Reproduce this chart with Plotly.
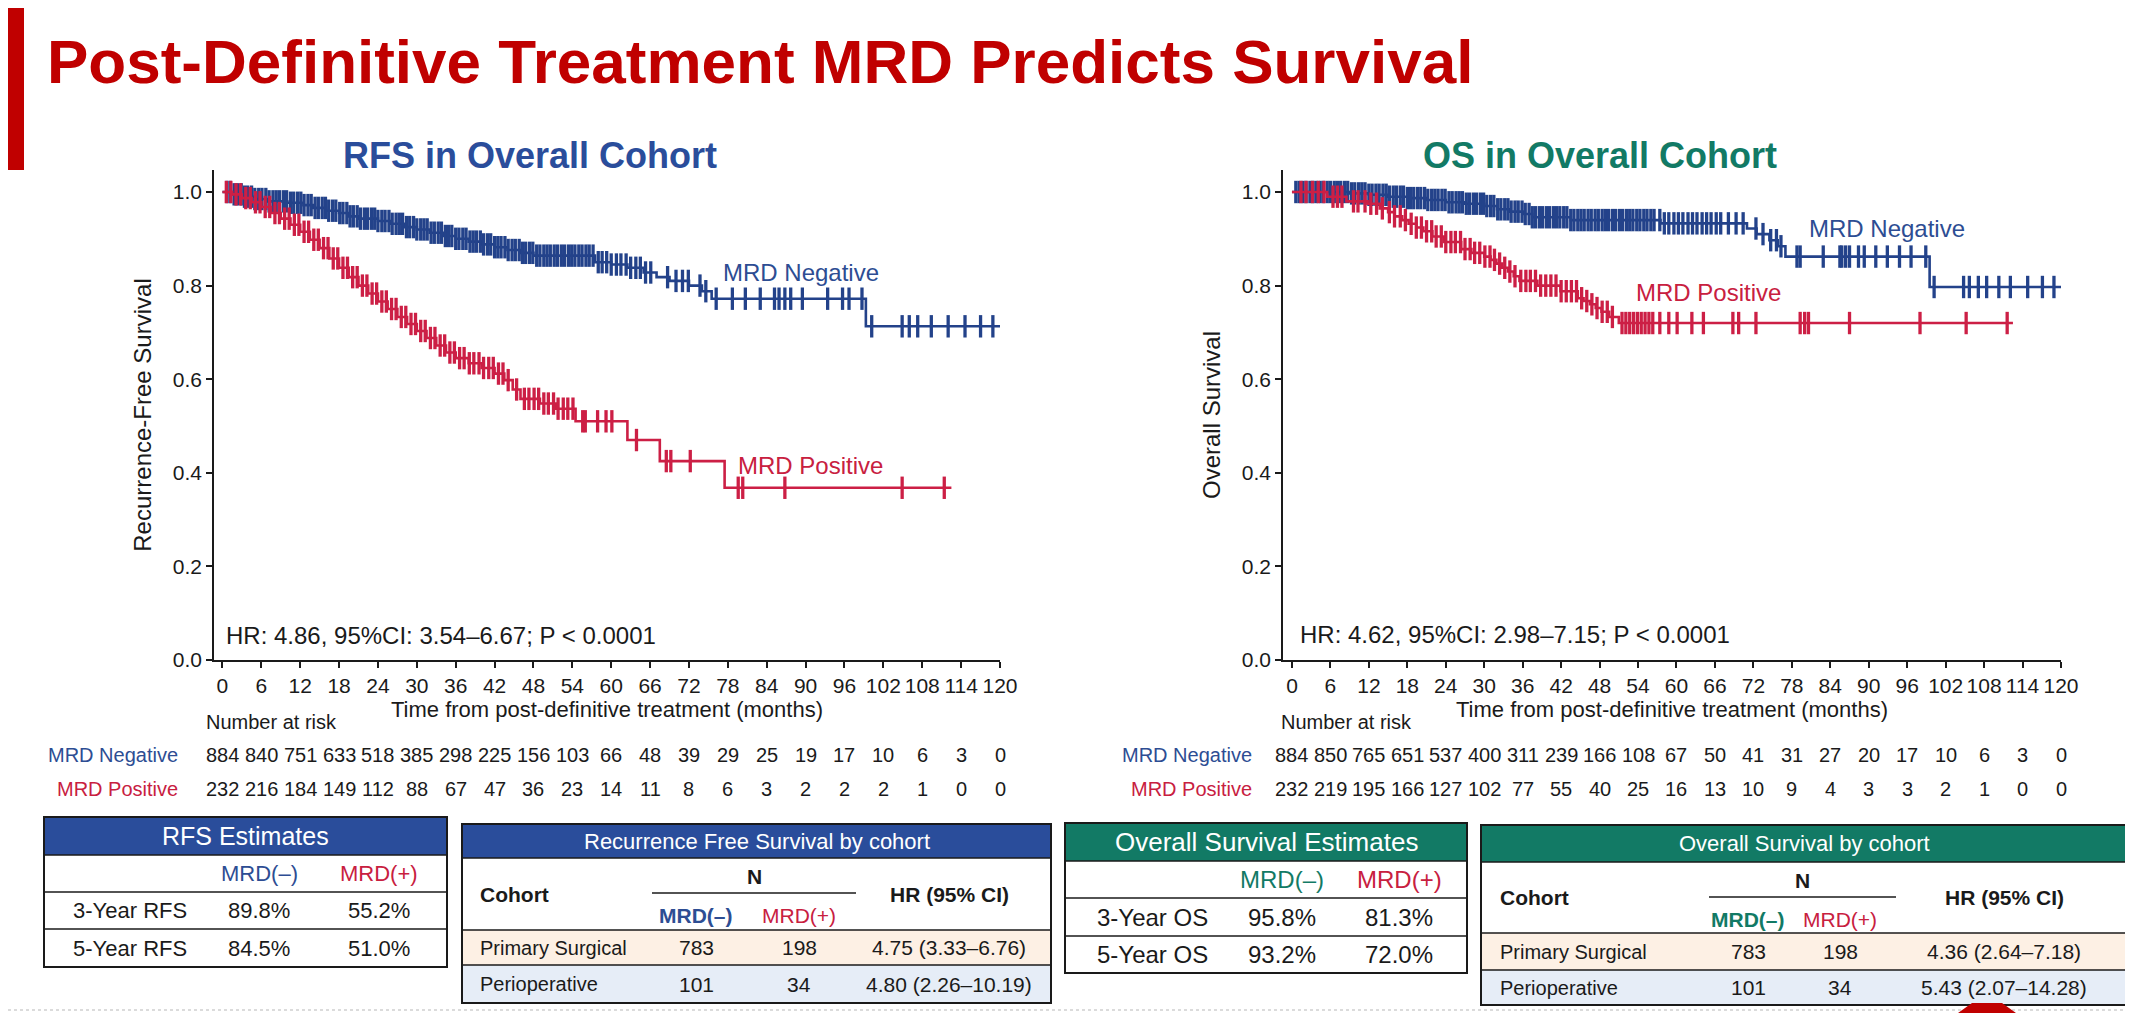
import bisect

import plotly.graph_objects as go

W, H = 2133, 1013
OFF = 8  # margen por defecto del <body> en el html
FONT = "Liberation Sans, Arial, Helvetica, sans-serif"

# Paleta
SLIDE_RED = "#c00000"
HEAD_BLUE = "#2a4d9b"
HEAD_GREEN = "#127a65"
NAVY = "#23428a"
CRIMSON = "#cc1f45"
LABEL_BLUE = "#2d4d93"
LABEL_RED = "#c8203f"
PEACH = "#fdf0e4"
ICE = "#e6edf7"
INK = "#1a1a1a"

MONTHS = list(range(0, 121, 6))

# ── RFS: curvas Kaplan-Meier (tiempos de escalon y supervivencia) ──
RFS_NEG_T = [0, 1.5, 3, 5, 7, 10, 12.5, 14, 16, 18, 19.5, 21, 24, 26, 28, 30, 32, 34, 36,
             38, 40, 42, 44, 46, 48, 57.5, 60, 62.5, 65, 67, 69, 72, 74, 75.5, 99.3]
RFS_NEG_S = [1.0, 0.995, 0.99, 0.985, 0.98, 0.977, 0.972, 0.966, 0.96, 0.955, 0.948, 0.943,
             0.938, 0.932, 0.925, 0.92, 0.913, 0.906, 0.9, 0.894, 0.888, 0.882, 0.876, 0.87,
             0.864, 0.85, 0.845, 0.838, 0.828, 0.818, 0.81, 0.8, 0.788, 0.772, 0.713]
RFS_NEG_END = 120
RFS_NEG_CENS = [float(v) for v in """
0.7 1.2 1.8 2.3 2.9 3.4 3.9 4.5 5.0 5.6 6.1 6.7 7.2 7.8 8.3 8.8 9.4 9.9 10.5 11.0 11.6
12.1 12.6 13.2 13.7 14.3 14.8 15.4 15.9 16.4 17.0 17.5 18.1 18.6 19.2 19.7 20.2 20.8 21.3
21.9 22.4 23.0 23.5 24.0 24.6 25.1 25.7 26.2 26.8 27.3 27.8 28.4 28.9 29.5 30.0 30.6 31.1
31.6 32.2 32.7 33.3 33.8 34.4 34.9 35.4 36.0 36.5 37.1 37.6 38.2 38.7 39.2 39.8 40.3 40.9
41.4 42.0 42.5 43.0 43.6 44.1 44.7 45.2 45.8 46.3 46.8 47.4 47.9 48.5 49.0 49.6 50.1 50.6
51.2 51.7 52.3 52.8 53.4 53.9 54.4 55.0 55.5 56.1 56.6 57.2 58.0 58.6 59.3 60.0 60.8 61.5
62.3 63.0 63.8 64.5 65.3 66.1 68.7 70.0 71.0 71.9 73.7 74.6 76.2 78.7 80.7 83.0 85.2 85.9
86.8 87.7 89.5 93.4 95.7 96.7 98.7 100.2 104.9 106.0 107.3 109.4 112.0 114.6 117.0 118.9
""".split()]

RFS_POS_T = [0, 1.5, 3, 4.5, 6, 7.5, 9, 10.5, 12, 13.5, 15, 16.5, 18, 19.5, 21, 22.5, 24,
             25.5, 27, 28.5, 30, 31.5, 33, 34.5, 36, 38, 40, 42, 43.5, 44.8, 46, 49, 51.5,
             54.5, 62.5, 67.5, 77.5]
RFS_POS_S = [1.0, 0.995, 0.987, 0.978, 0.968, 0.955, 0.943, 0.93, 0.915, 0.898, 0.88, 0.858,
             0.838, 0.818, 0.8, 0.783, 0.766, 0.75, 0.733, 0.718, 0.703, 0.688, 0.672, 0.657,
             0.645, 0.634, 0.624, 0.612, 0.598, 0.578, 0.558, 0.548, 0.537, 0.51, 0.47, 0.425,
             0.368]
RFS_POS_END = 112.5
RFS_POS_CENS = [float(v) for v in """
0.6 1.3 2.1 2.8 3.6 4.3 5.1 5.8 6.6 7.3 8.1 8.8 9.6 10.3 11.1 11.8 12.6 13.3 14.1 14.8
15.6 16.3 17.1 17.8 18.6 19.3 20.1 20.8 21.6 22.3 23.1 23.8 24.6 25.3 26.1 26.8 27.6 28.3
29.1 29.8 30.6 31.3 32.1 32.8 33.6 34.3 35.1 35.8 36.6 37.3 38.1 38.8 39.6 40.3 41.1 41.8
42.6 43.3 44.1 45.4 46.6 47.3 48.1 48.8 49.6 50.3 51.1 51.8 52.6 53.3 54.1 55.6 56.0 57.9
59.2 60.1 63.9 68.5 69.2 72.2 79.6 80.3 86.8 104.9 111.4
""".split()]

# ── OS: curvas Kaplan-Meier ──
OS_NEG_T = [0, 9, 12, 15, 18, 21, 24, 27, 30, 32, 34, 36, 37.5, 43.5, 57.5, 71, 72.5, 74.5,
            75.8, 77, 99.5]
OS_NEG_S = [1.0, 0.997, 0.994, 0.99, 0.987, 0.983, 0.978, 0.975, 0.97, 0.963, 0.958, 0.953,
            0.946, 0.94, 0.933, 0.922, 0.91, 0.897, 0.884, 0.862, 0.797]
OS_NEG_END = 120
OS_NEG_CENS = [float(v) for v in """
0.6 1.1 1.7 2.2 2.8 3.3 3.8 4.4 4.9 5.5 6.0 6.6 7.1 7.6 8.2 8.7 9.3 9.8 10.4 10.9 11.4
12.0 12.5 13.1 13.6 14.2 14.7 15.2 15.8 16.3 16.9 17.4 18.0 18.5 19.0 19.6 20.1 20.7 21.2
21.8 22.3 22.8 23.4 23.9 24.5 25.0 25.6 26.1 26.6 27.2 27.7 28.3 28.8 29.4 29.9 30.4 31.0
31.5 32.1 32.6 33.2 33.7 34.2 34.8 35.3 35.9 36.4 37.0 37.5 38.0 38.6 39.1 39.7 40.2 40.8
41.3 41.8 42.4 42.9 43.5 44.0 44.6 45.1 45.6 46.2 46.7 47.3 47.8 48.4 48.9 49.4 50.0 50.5
51.1 51.6 52.2 52.7 53.2 53.8 54.3 54.9 55.4 56.0 56.5 57.4 58.1 58.8 59.6 60.3 61.0 61.8
62.5 63.2 64.0 64.7 65.4 66.2 66.9 68.1 69.3 70.4 72.4 73.5 74.7 75.6 76.3 78.8 79.3 82.9
85.5 85.8 86.4 87.0 88.4 89.3 91.1 92.9 94.8 96.6 98.9 100.2 104.8 105.7 107.1 108.4 110.3
112.1 114.8 117.1 118.9
""".split()]

OS_POS_T = [0, 5.5, 8.5, 11.8, 13.7, 15, 16, 17.2, 18.2, 19.4, 20.5, 21.9, 23.7, 26.4, 28,
            30, 31, 31.9, 32.8, 33.7, 34.6, 35.5, 38.3, 41.9, 44.6, 45.5, 46.5, 47.4, 48.3,
            49.5, 51]
OS_POS_S = [1.0, 0.99, 0.98, 0.975, 0.965, 0.957, 0.948, 0.94, 0.932, 0.924, 0.916, 0.905,
            0.893, 0.878, 0.87, 0.862, 0.855, 0.847, 0.838, 0.83, 0.82, 0.81, 0.8, 0.788,
            0.773, 0.767, 0.76, 0.752, 0.744, 0.733, 0.72]
OS_POS_END = 112.5
OS_POS_CENS = [float(v) for v in """
1.4 2.2 3.2 4.1 5.0 6.4 7.1 7.8 9.6 10.3 11.4 12.3 13.2 14.1 15.2 16.0 16.9 17.7 18.6 19.4
20.2 21.0 21.8 22.5 23.3 24.0 24.8 25.5 26.3 27.0 27.8 28.5 29.3 30.1 30.9 31.6 32.4 33.2
34.0 34.8 35.7 36.5 37.2 38.0 38.8 39.6 40.4 41.2 42.0 42.8 43.6 44.4 45.2 46.0 46.8 47.6
48.4 49.2 50.0 51.5 52.1 52.7 53.3 53.9 54.5 55.1 55.7 56.3 57.4 58.8 60.1 62.4 64.2 68.8
69.7 72.4 79.3 80.0 80.6 87.0 98.0 105.2 111.6
""".split()]

# ── Numero en riesgo ──
RFS_RISK_NEG = [884, 840, 751, 633, 518, 385, 298, 225, 156, 103, 66, 48, 39, 29, 25, 19, 17, 10, 6, 3, 0]
RFS_RISK_POS = [232, 216, 184, 149, 112, 88, 67, 47, 36, 23, 14, 11, 8, 6, 3, 2, 2, 2, 1, 0, 0]
OS_RISK_NEG = [884, 850, 765, 651, 537, 400, 311, 239, 166, 108, 67, 50, 41, 31, 27, 20, 17, 10, 6, 3, 0]
OS_RISK_POS = [232, 219, 195, 166, 127, 102, 77, 55, 40, 25, 16, 13, 10, 9, 4, 3, 3, 2, 1, 0, 0]

# ── Tablas ──
RFS_EST_ROWS = ["3-Year RFS", "5-Year RFS"]
RFS_EST_NEG = ["89.8%", "84.5%"]
RFS_EST_POS = ["55.2%", "51.0%"]
OS_EST_ROWS = ["3-Year OS", "5-Year OS"]
OS_EST_NEG = ["95.8%", "93.2%"]
OS_EST_POS = ["81.3%", "72.0%"]
COHORTS = ["Primary Surgical", "Perioperative"]
COHORT_N_NEG = [783, 101]
COHORT_N_POS = [198, 34]
RFS_COHORT_HR = ["4.75 (3.33–6.76)", "4.80 (2.26–10.19)"]
OS_COHORT_HR = ["4.36 (2.64–7.18)", "5.43 (2.07–14.28)"]

annotations = []
shapes = []


def px(x):
    return (x - OFF) / (W - OFF)


def py(y):
    return 1 - (y - OFF) / (H - OFF)


def texto(x, y, s, size=20, color=INK, bold=False, anchor="center", xref="paper"):
    annotations.append(dict(
        x=px(x) if xref == "paper" else x, y=py(y), xref=xref, yref="paper",
        text=f"<b>{s}</b>" if bold else s, showarrow=False,
        xanchor=anchor, yanchor="middle",
        font=dict(family=FONT, size=size, color=color),
    ))


def rect(x0, y0, x1, y1, fill=None, line_color=None, width=0):
    shapes.append(dict(
        type="rect", xref="paper", yref="paper",
        x0=px(x0), x1=px(x1), y0=py(y1), y1=py(y0),
        fillcolor=fill or "rgba(0,0,0,0)",
        line=dict(color=line_color or "rgba(0,0,0,0)", width=width),
        layer="above" if fill is None else "below",
    ))


def hline(x0, x1, y, width=1.5, color=INK, dash="solid"):
    shapes.append(dict(
        type="line", xref="paper", yref="paper",
        x0=px(x0), x1=px(x1), y0=py(y), y1=py(y),
        line=dict(color=color, width=width, dash=dash),
    ))


def add_km(fig, t, s, end, cens, color, xa, ya):
    fig.add_trace(go.Scatter(
        x=t + [end], y=s + [s[-1]], mode="lines",
        line=dict(color=color, width=2.6, shape="hv"),
        xaxis=xa, yaxis=ya, hoverinfo="skip", showlegend=False,
    ))
    cy = [s[max(bisect.bisect_right(t, c) - 1, 0)] for c in cens]
    fig.add_trace(go.Scatter(
        x=cens, y=cy, mode="markers",
        marker=dict(symbol="line-ns", size=16, color=color,
                    line=dict(color=color, width=3.3)),
        xaxis=xa, yaxis=ya, hoverinfo="skip", showlegend=False,
    ))


def tabla_estimaciones(x0, x1, edges, titulo, head, neg_color, cols, filas, neg, pos,
                       head_size, body_size):
    """Tabla simple de estimaciones a 3 y 5 anios."""
    rect(x0, edges[0], x1, edges[1], fill=head)
    texto((x0 + x1) / 2, (edges[0] + edges[1]) / 2, titulo, head_size, "white")
    ymid = [(edges[i] + edges[i + 1]) / 2 for i in range(1, 4)]
    texto(cols[1], ymid[0], "MRD(–)", body_size, neg_color)
    texto(cols[2], ymid[0], "MRD(+)", body_size, LABEL_RED)
    for i in range(2):
        texto(cols[0], ymid[i + 1], filas[i], body_size)
        texto(cols[1], ymid[i + 1], neg[i], body_size)
        texto(cols[2], ymid[i + 1], pos[i], body_size)
    for y in edges[1:4]:
        hline(x0, x1, y)
    rect(x0, edges[0], x1, edges[4], line_color=INK, width=2)


def tabla_cohortes(x0, x1, edges, titulo, head, neg_color, cols, nline, hr):
    """Tabla de HR por cohorte (cabecera N con MRD(-)/MRD(+))."""
    rect(x0, edges[0], x1, edges[1], fill=head)
    rect(x0, edges[2], x1, edges[3], fill=PEACH)
    rect(x0, edges[3], x1, edges[4], fill=ICE)
    texto((x0 + x1) / 2, (edges[0] + edges[1]) / 2, titulo, 22, "white")
    sub_mid = (edges[1] + edges[2]) / 2
    texto(cols[0], sub_mid, "Cohort", 21, bold=True, anchor="left")
    texto((nline[0] + nline[1]) / 2, nline[2] - 17, "N", 21, bold=True)
    hline(nline[0], nline[1], nline[2], 1.5)
    texto(cols[1], nline[2] + 22, "MRD(–)", 21, neg_color, bold=True)
    texto(cols[2], nline[2] + 22, "MRD(+)", 21, LABEL_RED)
    texto(cols[3], sub_mid, "HR (95% CI)", 21, bold=True)
    for i in range(2):
        ym = (edges[i + 2] + edges[i + 3]) / 2
        texto(cols[0], ym, COHORTS[i], 20, anchor="left")
        texto(cols[1], ym, str(COHORT_N_NEG[i]), 21)
        texto(cols[2], ym, str(COHORT_N_POS[i]), 21)
        texto(cols[3], ym, hr[i], 21)
    for y in edges[1:4]:
        hline(x0, x1, y)
    rect(x0, edges[0], x1, edges[4], line_color=INK, width=2)


fig = go.Figure()

add_km(fig, RFS_NEG_T, RFS_NEG_S, RFS_NEG_END, RFS_NEG_CENS, NAVY, "x", "y")
add_km(fig, RFS_POS_T, RFS_POS_S, RFS_POS_END, RFS_POS_CENS, CRIMSON, "x", "y")
add_km(fig, OS_NEG_T, OS_NEG_S, OS_NEG_END, OS_NEG_CENS, NAVY, "x2", "y2")
add_km(fig, OS_POS_T, OS_POS_S, OS_POS_END, OS_POS_CENS, CRIMSON, "x2", "y2")

# ── Titulo de la diapositiva ──
rect(OFF, OFF, 24, 170, fill=SLIDE_RED)
texto(45, 61, "Post-Definitive Treatment MRD Predicts Survival", 62, SLIDE_RED,
      bold=True, anchor="left")
texto(530, 155, "RFS in Overall Cohort", 36, HEAD_BLUE, bold=True)
texto(1600, 155, "OS in Overall Cohort", 36, HEAD_GREEN, bold=True)

# ── Anotaciones dentro de los graficos ──
for xa, ya, txt, xv, yv, col in [
    ("x", "y", "MRD Negative", 77, 0.828, LABEL_BLUE),
    ("x", "y", "MRD Positive", 79.3, 0.416, LABEL_RED),
    ("x2", "y2", "MRD Negative", 80.3, 0.922, LABEL_BLUE),
    ("x2", "y2", "MRD Positive", 53.3, 0.785, LABEL_RED),
    ("x", "y", "HR: 4.86, 95%CI: 3.54–6.67; P < 0.0001", 0.3, 0.053, INK),
    ("x2", "y2", "HR: 4.62, 95%CI: 2.98–7.15; P < 0.0001", 1.0, 0.055, INK),
]:
    annotations.append(dict(
        x=xv, y=yv, xref=xa, yref=ya, text=txt, showarrow=False,
        xanchor="left", yanchor="middle",
        font=dict(family=FONT, size=24, color=col),
    ))

# ── Numero en riesgo ──
for xref, lab_x, nar_x, neg, pos in [
    ("x", 180, 204, RFS_RISK_NEG, RFS_RISK_POS),
    ("x2", 1254, 1279, OS_RISK_NEG, OS_RISK_POS),
]:
    texto(nar_x, 722, "Number at risk", 20, anchor="left")
    texto(lab_x, 755, "MRD Negative", 20, LABEL_BLUE, anchor="right")
    texto(lab_x, 789, "MRD Positive", 20, LABEL_RED, anchor="right")
    for m, n_neg, n_pos in zip(MONTHS, neg, pos):
        texto(m, 755, str(n_neg), 20, xref=xref)
        texto(m, 789, str(n_pos), 20, xref=xref)

# ── Tablas ──
tabla_estimaciones(44, 447, [817, 855, 892, 929, 967], "RFS Estimates", HEAD_BLUE,
                   LABEL_BLUE, [130, 259, 379], RFS_EST_ROWS, RFS_EST_NEG, RFS_EST_POS,
                   25, 22)
tabla_cohortes(462, 1051, [824, 858, 930, 965, 1003], "Recurrence Free Survival by cohort",
               HEAD_BLUE, LABEL_BLUE, [478, 696, 799, 949], [652, 856, 893], RFS_COHORT_HR)
tabla_estimaciones(1065, 1467, [823, 861, 898, 936, 973], "Overall Survival Estimates",
                   HEAD_GREEN, HEAD_GREEN, [1152, 1282, 1399], OS_EST_ROWS, OS_EST_NEG,
                   OS_EST_POS, 26, 24)
tabla_cohortes(1481, 2128, [825, 862, 933, 970, 1005], "Overall Survival by cohort",
               HEAD_GREEN, HEAD_GREEN, [1498, 1748, 1840, 2004], [1709, 1896, 897],
               OS_COHORT_HR)

# pie de diapositiva
hline(OFF, W, 1010, 1.5, "#cfcfcf", "dot")
shapes.append(dict(type="path", xref="paper", yref="paper",
                   path=f"M {px(1958)} {py(1013)} L {px(1972)} {py(1003)} "
                        f"L {px(2002)} {py(1003)} L {px(2016)} {py(1013)} Z",
                   fillcolor=SLIDE_RED, line=dict(width=0)))

eje = dict(
    showline=True, linecolor=INK, linewidth=1.5, ticks="outside", ticklen=6,
    tickwidth=1.5, tickcolor=INK, showgrid=False, zeroline=False, automargin=False,
    tickfont=dict(family=FONT, size=21, color=INK),
)
eje_x = dict(eje, range=[-1.3, 120], tickvals=MONTHS, tickangle=0,
             title=dict(text="Time from post-definitive treatment (months)",
                        font=dict(family=FONT, size=22, color=INK), standoff=2))
eje_y = dict(eje, range=[0, 1.047], tickvals=[0, 0.2, 0.4, 0.6, 0.8, 1.0],
             ticktext=["0.0", "0.2", "0.4", "0.6", "0.8", "1.0"])

fig.update_layout(
    template="none",
    width=W - OFF, height=H - OFF, autosize=False,
    margin=dict(l=0, r=0, t=0, b=0),
    paper_bgcolor="white", plot_bgcolor="white",
    showlegend=False,
    xaxis=dict(eje_x, domain=[px(214), px(1000)], anchor="y"),
    yaxis=dict(eje_y, domain=[py(660), py(170)], anchor="x",
               title=dict(text="Recurrence-Free Survival",
                          font=dict(family=FONT, size=24, color=INK), standoff=14)),
    xaxis2=dict(eje_x, domain=[px(1283), px(2061)], anchor="y2", range=[-1.4, 120]),
    yaxis2=dict(eje_y, domain=[py(660), py(170)], anchor="x2",
                title=dict(text="Overall Survival",
                           font=dict(family=FONT, size=24, color=INK), standoff=14)),
    annotations=annotations,
    shapes=shapes,
)

fig.write_html("out.html")
